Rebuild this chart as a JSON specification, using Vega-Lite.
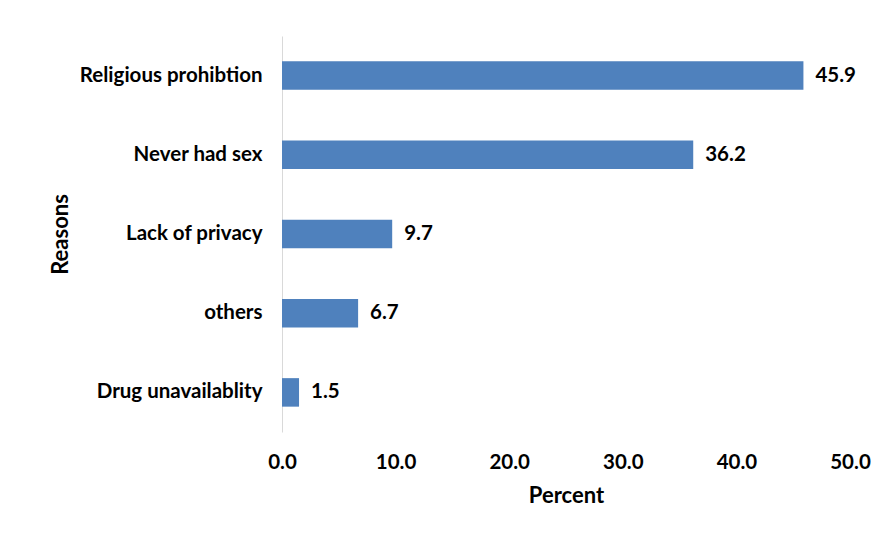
{
  "$schema": "https://vega.github.io/schema/vega-lite/v6.json",
  "width": 568,
  "height": 396,
  "autosize": "none",
  "padding": {"left": 282, "top": 36, "right": 31, "bottom": 105},
  "background": "white",
  "config": {
    "view": {"stroke": null},
    "font": "Lato",
    "axis": {"labelFont": "Lato", "titleFont": "Lato", "labelFontWeight": "bold", "titleFontWeight": "bold", "labelColor": "#000", "titleColor": "#000"}
  },
  "data": {
    "values": [
      {"reason": "Religious prohibtion", "percent": 45.9},
      {"reason": "Never had sex", "percent": 36.2},
      {"reason": "Lack of privacy", "percent": 9.7},
      {"reason": "others", "percent": 6.7},
      {"reason": "Drug unavailablity", "percent": 1.5}
    ]
  },
  "encoding": {
    "y": {
      "field": "reason",
      "type": "nominal",
      "sort": null,
      "scale": {"paddingInner": 0.64, "paddingOuter": 0.32},
      "axis": {"title": "Reasons", "labelFontSize": 20.5, "titleFontSize": 22, "ticks": false, "domainColor": "#D9D9D9", "domainWidth": 1, "labelPadding": 20, "titlePadding": 10, "labelLimit": 400}
    },
    "x": {
      "field": "percent",
      "type": "quantitative",
      "scale": {"domain": [0, 50], "nice": false},
      "axis": {"title": "Percent", "format": ".1f", "values": [0, 10, 20, 30, 40, 50], "labelOverlap": false, "grid": false, "domain": false, "ticks": false, "labelFontSize": 20.5, "titleFontSize": 22, "labelPadding": 20, "titlePadding": 13, "labelFlush": false}
    }
  },
  "layer": [
    {"mark": {"type": "bar", "color": "#4F81BD"}},
    {"mark": {"type": "text", "align": "left", "dx": 12, "fontSize": 20.5, "fontWeight": "bold", "font": "Lato", "color": "#000"},
     "encoding": {"text": {"field": "percent", "type": "quantitative", "format": ".1f"}}}
  ]
}
